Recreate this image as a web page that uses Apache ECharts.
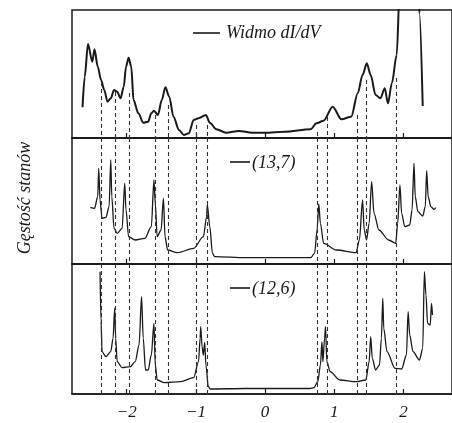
<!DOCTYPE html>
<html><head><meta charset="utf-8">
<script src="https://cdn.jsdelivr.net/npm/echarts@6/dist/echarts.min.js"></script>
<style>html,body{margin:0;padding:0;background:#fff}#c{width:452px;height:423px}</style>
</head><body><div id="c"></div>
<script>
// ---- data (energy in eV, intensity in arbitrary panel units) ----
const xTicks = [-2, -1, 0, 1, 2];

const topE = [-2.638,-2.606,-2.559,-2.497,-2.465,-2.418,-2.370,-2.324,-2.277,-2.230,-2.183,-2.137,-2.089,-2.042,-2.010,-1.972,-1.934,-1.901,-1.831,-1.761,-1.690,-1.644,-1.606,-1.549,-1.493,-1.441,-1.385,-1.324,-1.244,-1.173,-1.103,-1.032,-0.962,-0.855,-0.799,-0.704,-0.563,-0.376,-0.187,0,0.282,0.658,0.742,0.845,0.976,1.103,1.244,1.338,1.408,1.469,1.525,1.596,1.666,1.728,1.775,1.831,1.901,1.945,2.215,2.229,2.277];
const topV = [30.7,61.3,94,76.3,88.7,71.3,58,48,36.3,39.7,48,46.3,39.7,51.3,71.3,80.3,71.3,38,24.7,15.3,16.3,24.7,27.3,23,38,50.7,41.3,21.3,8,3,4.7,18,19.7,23,15.3,8.7,5.3,7,5.3,5.3,6.3,8.7,14.7,17.3,31.3,18.7,21.3,44.7,63,74.7,63,43,39.7,49.7,34.7,54.7,83,150,150,124.7,32];

const midE = [-2.525,-2.465,-2.418,-2.404,-2.385,-2.356,-2.300,-2.254,-2.230,-2.215,-2.183,-2.137,-2.066,-2.028,-2.010,-1.972,-1.877,-1.737,-1.644,-1.606,-1.587,-1.559,-1.503,-1.469,-1.446,-1.408,-1.268,-1.032,-0.892,-0.845,-0.835,-0.799,-0.761,-0.728,-0.282,0.658,0.715,0.751,0.775,0.799,0.845,1.032,1.314,1.362,1.408,1.432,1.465,1.503,1.539,1.573,1.644,1.785,1.887,1.915,1.948,1.972,2.018,2.089,2.123,2.151,2.169,2.207,2.277,2.314,2.334,2.356,2.394,2.441,2.465];
const midV = [56.7,55.7,67.3,95.7,64,45.7,46.7,57.3,104,67.3,35.7,30.7,35.7,80.7,54,27.3,24,25.7,37.3,84,60.7,27.3,34,65.7,27.3,14,11.3,15.7,27.3,47.3,59,37.3,10.7,7.3,6.3,6.3,10.7,34,60,40.7,20.7,14,11.3,24,64,34,24,40.7,82.3,50.7,34,24,20.7,40.7,79,50.7,37.3,39,54,100.7,67.3,52.3,48,57.3,93.3,67.3,57.3,54.7,56.3];

const botE = [-2.385,-2.370,-2.356,-2.300,-2.230,-2.197,-2.173,-2.159,-2.137,-2.066,-1.948,-1.877,-1.821,-1.785,-1.761,-1.728,-1.690,-1.644,-1.606,-1.587,-1.559,-1.455,-1.221,-1.032,-0.962,-0.939,-0.930,-0.911,-0.892,-0.873,-0.855,-0.821,-0.790,-0.282,0.648,0.704,0.761,0.799,0.821,0.835,0.859,0.873,0.892,0.939,1.080,1.314,1.455,1.503,1.525,1.549,1.596,1.652,1.680,1.700,1.714,1.761,1.877,1.972,2.042,2.066,2.089,2.137,2.230,2.277,2.301,2.324,2.347,2.385,2.404,2.418];
const botV = [122.3,72.3,42.3,37.3,42.3,55.7,85.7,55.7,32.3,26.3,27.3,32.3,49,97.3,55.7,24,24,39,70.7,29,14,11.3,12.3,16.3,32.3,55.7,67.3,47.3,39,51.7,29,7.3,5,5.5,5.5,6.3,12.3,29,52.3,32.3,55.7,67.3,32.3,22.3,14,12.3,14,32.3,57.3,35.7,24,29,55.7,95.7,65.7,42.3,25.7,25,39,82.3,59,42.3,34,45.7,122.3,99,70.7,69,90.7,79];

const dashE = [-2.37,-2.17,-1.97,-1.59,-1.40,-0.99,-0.835,0.75,0.90,1.33,1.455,1.90];
const dashTopStart = [56,46,45,23,33,13,13,6,21,23,58,60];

const legendTop = 'Widmo dI/dV';
const legendMid = '(13,7)';
const legendBot = '(12,6)';
const yTitle = 'Gęstość stanów';

// ---- chart ----
const ink = '#1a1a1a';
const serif = '"Liberation Serif", "DejaVu Serif", serif';
const panelH = [128, 126, 130];
const grids = [
  {left: 72, right: -10, top: 10, height: panelH[0]},
  {left: 72, right: -10, top: 138, height: panelH[1]},
  {left: 72, right: -10, top: 264, height: panelH[2]}
].map(g => Object.assign(g, {show: true, borderColor: ink, borderWidth: 1.5, backgroundColor: 'transparent'}));

const xAxes = [0,1,2].map(i => ({
  type: 'value', gridIndex: i, min: -2.79, max: 2.70,
  splitLine: {show: false},
  axisLine: {show: true, onZero: false, lineStyle: {color: ink, width: 1.5}},
  axisTick: {show: true, inside: true, length: 5, customValues: xTicks, lineStyle: {color: ink, width: 1.2}},
  axisLabel: {show: i === 2, customValues: xTicks, margin: 10,
    fontFamily: serif, fontStyle: 'italic', fontSize: 17, color: ink,
    formatter: v => String(v).replace('-', '\u2212')}
}));
const yAxes = [0,1,2].map(i => ({
  type: 'value', gridIndex: i, min: 0, max: panelH[i],
  axisLine: {show: false}, axisTick: {show: false}, axisLabel: {show: false}, splitLine: {show: false}
}));

const zip = (a, b) => a.map((x, k) => [x, b[k]]);
const dashStyle = {color: '#333', width: 1.1, type: [4, 3]};
function marks(i) {
  return {
    silent: true, symbol: ['none', 'none'], label: {show: false}, lineStyle: dashStyle, animation: false,
    data: dashE.map((e, k) => [
      {coord: [e, i === 0 ? dashTopStart[k] : panelH[i]]},
      {coord: [e, 0]}
    ])
  };
}
const common = {type: 'line', showSymbol: false, clip: true, smooth: 0.3, smoothMonotone: 'x'};
const series = [
  Object.assign({xAxisIndex: 0, yAxisIndex: 0, data: zip(topE, topV),
   lineStyle: {color: ink, width: 2}, markLine: marks(0)}, common),
  Object.assign({xAxisIndex: 1, yAxisIndex: 1, data: zip(midE, midV),
   lineStyle: {color: ink, width: 1.3}, markLine: marks(1)}, common),
  Object.assign({xAxisIndex: 2, yAxisIndex: 2, data: zip(botE, botV),
   lineStyle: {color: ink, width: 1.3}, markLine: marks(2)}, common)
];

const dash = (x1, x2, y) => ({type: 'line', shape: {x1, y1: y, x2, y2: y}, style: {stroke: ink, lineWidth: 1.6}});
const font = 'italic 18px ' + serif;

const chart = echarts.init(document.getElementById('c'), null, {renderer: 'canvas'});
chart.setOption({
  animation: false,
  backgroundColor: '#fff',
  grid: grids, xAxis: xAxes, yAxis: yAxes, series,
  graphic: [
    dash(193, 220, 33),
    {type: 'text', x: 226, y: 33, style: {text: legendTop, font, fill: ink, verticalAlign: 'middle'}},
    dash(230, 250, 162),
    {type: 'text', x: 252, y: 163, style: {text: legendMid, font, fill: ink, verticalAlign: 'middle'}},
    dash(230, 250, 288),
    {type: 'text', x: 252, y: 289, style: {text: legendBot, font, fill: ink, verticalAlign: 'middle'}},
    {type: 'text', x: 25, y: 198, rotation: Math.PI / 2,
     style: {text: yTitle, font, fill: ink, align: 'center', verticalAlign: 'middle'}}
  ]
});
</script>
</body></html>
